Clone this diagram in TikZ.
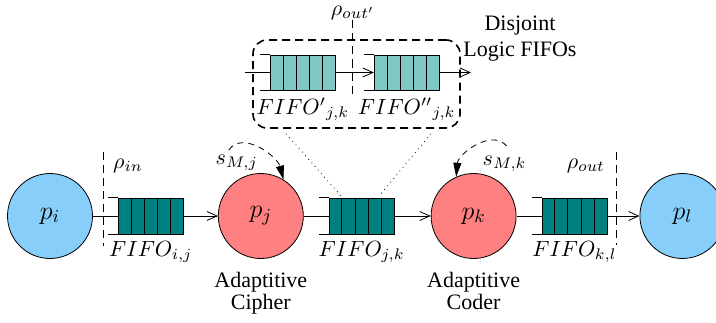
\RequirePackage{fix-cm}
\documentclass[tikz,border=0pt]{standalone}
\usepackage{fontspec}
\setmainfont{Liberation Serif}
\usetikzlibrary{positioning,calc,arrows.meta}
\definecolor{procblue}{RGB}{135,206,250}
\definecolor{procred}{RGB}{255,128,128}
\definecolor{fifodark}{RGB}{0,128,128}
\definecolor{fifolight}{RGB}{128,200,195}
\tikzset{
    proc/.style = {
        draw,
        circle,
        minimum size=42.5pt,
        inner sep=0pt,
        font=\fontsize{13}{15}\selectfont,
        },
    src node/.style = {
        proc,
        fill = procblue,
        },
    adapt node/.style = {
        proc,
        fill = procred,
        },
    fifo/.style = {
        draw,
        rectangle,
        minimum width=32.5pt,
        minimum height=18pt,
        inner sep=0pt,
        fill = fifodark,
        },
    fifo lite/.style = {
        fifo,
        minimum height=17.5pt,
        fill = fifolight,
        },
    flow/.style = {
        -{Straight Barb[length=5pt,width=4.5pt]},
        },
    sched/.style = {
        dash pattern=on 3pt off 2.5pt,
        -{Triangle[length=7pt,width=4pt]},
        },
    cut line/.style = {
        dash pattern=on 4pt off 2.5pt,
        },
    disjoint box/.style = {
        draw,
        line width=0.8pt,
        dash pattern=on 4pt off 2.5pt,
        rounded corners=7pt,
        minimum width=103.5pt,
        minimum height=44pt,
        },
}

\begin{document}
\begin{tikzpicture}[x=0.5pt, y=0.5pt, font=\fontsize{11}{11}\selectfont]
    \useasboundingbox (0,0) rectangle (716,322);

    % processes
    \node[src node] (pi) at (50,106) {$p_i$};
    \node[adapt node, right=62.5pt of pi] (pj) {$p_j$};
    \node[adapt node, right=63.5pt of pj] (pk) {$p_k$};
    \node[src node, right=61.5pt of pk] (pl) {$p_l$};

    % channels
    \node[fifo, right=12.5pt of pi] (fij) {};
    \node[fifo, right=12.5pt of pj] (fjk) {};
    \node[fifo, right=12.5pt of pk] (fkl) {};
    \node[below=0pt of fij] (lij) {$FIFO_{i,j}$};
    \node[below=0pt of fjk] (ljk) {$FIFO_{j,k}$};
    \node[below=0pt of fkl] (lkl) {$FIFO_{k,l}$};

    \path[draw] (pi) -- (fij);
    \path[draw, flow] (fij) -- (pj);
    \path[draw] (pj) -- (fjk);
    \path[draw, flow] (fjk) -- (pk);
    \path[draw] (pk) -- (fkl);
    \path[draw, flow] (fkl) -- (pl);

    % rates
    \draw[cut line] ($(fij.west)+(-15,64)$) -- ($(fij.west)+(-15,-30)$);
    \node (rin) at ($(fij.west)+(10,50)$) {$\rho_{in}$};
    \draw[cut line] ($(fkl.east)+(9,64)$) -- ($(fkl.east)+(9,-29)$);
    \node (rout) at ($(fkl.east)+(-21.5,50)$) {$\rho_{out}$};

    % schedules
    \coordinate (sj) at ($(pj)+(-32,66)$);
    \coordinate (sk) at ($(pk)+(33,70)$);
    \draw[sched] (sj) to[out=55, in=105] (pj.58);
    \draw[sched] (sk) to[out=130, in=85] (pk.114);
    \node (lsj) at ($(pj)+(-24,53)$) {$s_{M,j}$};
    \node (lsk) at ($(pk)+(31,52)$) {$s_{M,k}$};

    \node[align=center, below=3pt of pj] (cipher) {Adaptitive\\Cipher};
    \node[align=center, below=3pt of pk] (coder) {Adaptitive\\Coder};

    % disjoint logic fifos
    \node[disjoint box] (disj) at (356.5,238) {};
    \node[fifo lite, anchor=west] (fa) at (270,249.5) {};
    \node[fifo lite, right=19pt of fa] (fb) {};
    \node[below=0pt of fa] (la) {${FIFO'}_{j,k}$};
    \node[below=0pt of fb] (lb) {${FIFO''}_{j,k}$};
    \coordinate (qin) at (245,249.5);
    \coordinate (qout) at (471,249.5);
    \path[draw] (qin) -- (fa);
    \path[draw, flow] (fa) -- (fb);
    \path[draw, flow] (fb) -- (qout);
    \coordinate (mid) at ($(fa.east)!0.5!(fb.west)$);
    \draw[cut line] ($(mid)+(-2,52)$) -- ($(mid)+(-2,-24)$);
    \node (rmid) at ($(mid)+(-2,60)$) {$\rho_{out'}$};
    \node[align=center, font=\fontsize{11}{13}\selectfont] (dlabel) at (520,283) {Disjoint\\Logic FIFOs};

    % queue slots and open ends
    \foreach \f in {fij,fjk,fkl,fa,fb} {
        \foreach \t in {0.2,0.4,0.6,0.8}
            \draw ($(\f.north west)!\t!(\f.north east)$) -- ($(\f.south west)!\t!(\f.south east)$);
        \draw (\f.north west) -- ++(-5pt,0) (\f.south west) -- ++(-5pt,0);
    }

    \draw[dotted] ($(disj.south west)+(34,-5)$) -- ($(fjk.north west)+(12,2)$);
    \draw[dotted] ($(disj.south east)+(-30,-5)$) -- ($(fjk.north east)+(-15,2)$);
\end{tikzpicture}
\end{document}
